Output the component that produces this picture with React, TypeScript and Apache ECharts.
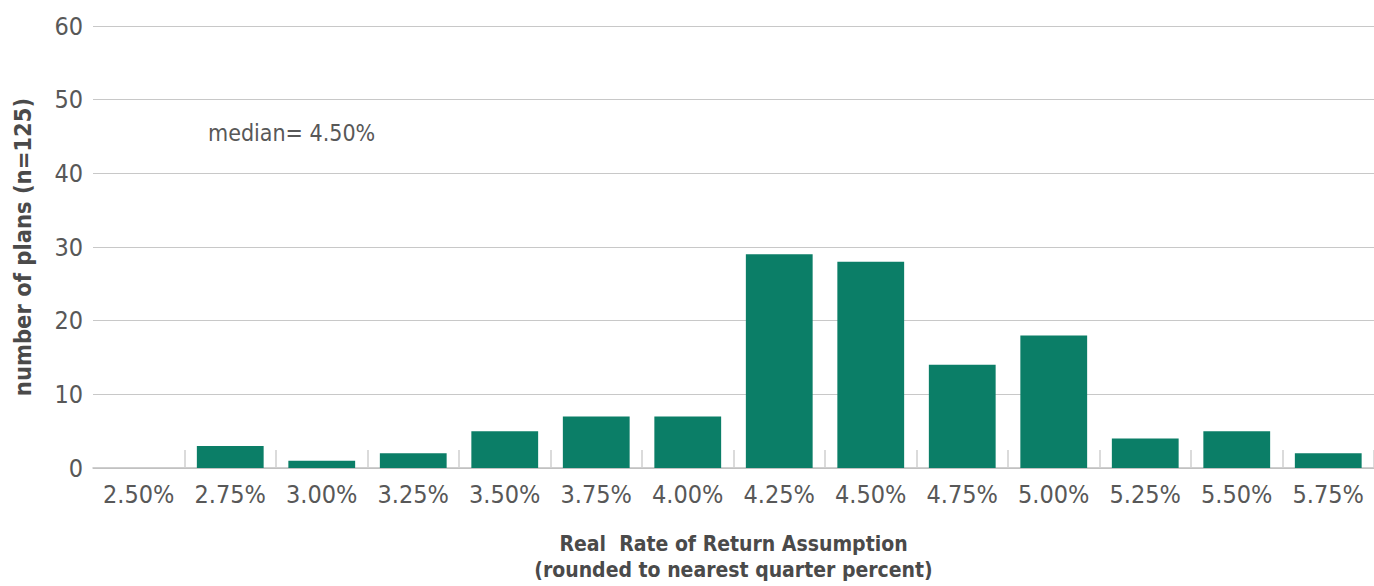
import React, { useEffect, useRef } from "react";
import * as echarts from "echarts";

const categories = ["2.50%", "2.75%", "3.00%", "3.25%", "3.50%", "3.75%", "4.00%", "4.25%", "4.50%", "4.75%", "5.00%", "5.25%", "5.50%", "5.75%"];
const plans = [0, 3, 1, 2, 5, 7, 7, 29, 28, 14, 18, 4, 5, 2];
const yTicks = { min: 0, max: 60, interval: 10 };
const medianNote = "median= 4.50%";
const xTitle = "Real  Rate of Return Assumption\n(rounded to nearest quarter percent)";
const yTitle = "number of plans (n=125)";

const FONT = "'DejaVu Sans Condensed', 'Open Sans', sans-serif";
const TXT = "#585858";

export default function App() {
  const ref = useRef<HTMLDivElement>(null);
  useEffect(() => {
    if (!ref.current) return;
    const chart = echarts.init(ref.current, undefined, { renderer: "svg" });
    chart.setOption({
      animation: false,
      textStyle: { fontFamily: FONT },
      grid: { left: 93, right: 0, top: 26, bottom: 118, containLabel: false, outerBoundsMode: "none" },
      xAxis: {
        type: "category",
        data: categories,
        axisLine: { show: true, lineStyle: { color: "#bfbfbf", width: 1.5 } },
        axisTick: {
          show: true,
          length: 18,
          inside: true,
          interval: (i: number) => i > 0,
          lineStyle: { color: "#cfcfcf", width: 1.5 },
        },
        axisLabel: { color: TXT, fontSize: 25, margin: 14, interval: 0, fontFamily: FONT },
        name: xTitle,
        nameLocation: "middle",
        nameGap: 63,
        nameTextStyle: { color: "#4a4a4a", fontSize: 21, fontWeight: "bold", lineHeight: 26, fontFamily: FONT },
      },
      yAxis: {
        type: "value",
        min: yTicks.min,
        max: yTicks.max,
        interval: yTicks.interval,
        axisLine: { show: false },
        axisTick: { show: false },
        splitLine: { lineStyle: { color: "#c8c8c8", width: 1 } },
        axisLabel: { color: TXT, fontSize: 25, margin: 10, fontFamily: FONT },
        name: yTitle,
        nameLocation: "middle",
        nameGap: 58,
        nameRotate: 90,
        nameTextStyle: { color: "#4a4a4a", fontSize: 23.5, fontWeight: "bold", fontFamily: FONT },
      },
      graphic: [
        {
          type: "text",
          left: 208,
          top: 121,
          style: { text: medianNote, fill: TXT, fontSize: 23, fontFamily: FONT },
        },
      ],
      series: [
        {
          type: "bar",
          data: plans,
          barCategoryGap: "27%",
          itemStyle: { color: "#0b7e67" },
        },
      ],
    });
    return () => chart.dispose();
  }, []);
  return <div ref={ref} style={{ position: "fixed", left: 0, top: 0, width: 1374, height: 586, background: "#fff" }} />;
}
